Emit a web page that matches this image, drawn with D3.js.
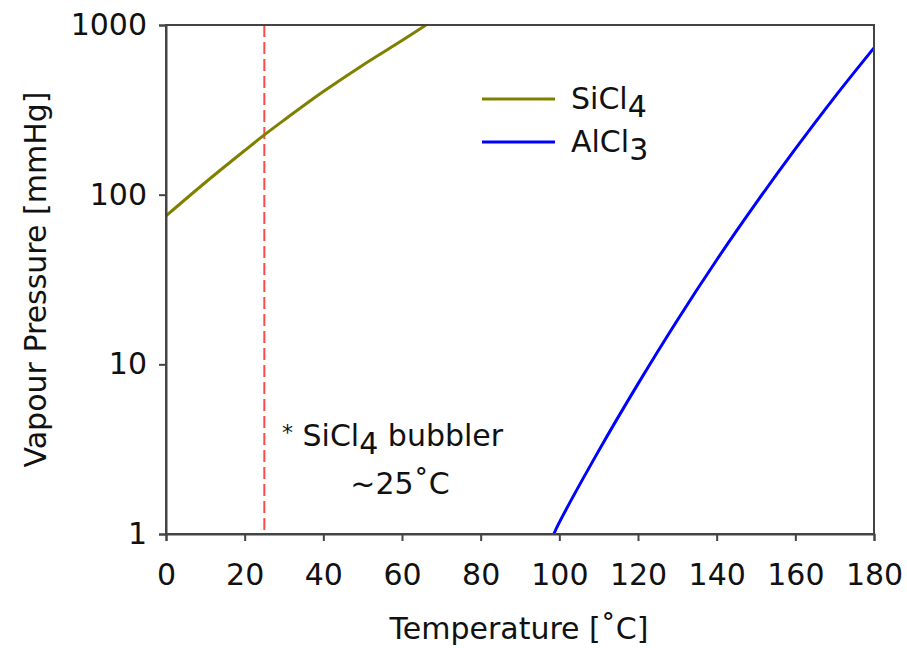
<!DOCTYPE html>
<html>
<head>
<meta charset="utf-8">
<script src="https://cdn.jsdelivr.net/npm/d3@7"></script>
<style>
  body { margin: 0; background: #fff; }
  text { font-family: "DejaVu Sans", Verdana, sans-serif; fill: #111; }
</style>
</head>
<body>
<div id="chart"></div>
<script>
// vapour pressure data (temperature in C, pressure in mmHg)
var sicl4Temp = [0, 10, 20, 25, 30, 40, 50, 60, 66.1];
var sicl4Pres = [75, 118, 182, 225, 275, 405, 580, 810, 1000];

var alcl3Temp = [98.6, 100, 110, 120, 130, 140, 150, 160, 170, 180];
var alcl3Pres = [1, 1.17, 3.09, 7.67, 18.2, 41.2, 89.1, 186, 376, 733];

var xTicks = [0, 20, 40, 60, 80, 100, 120, 140, 160, 180];
var yTicks = [1, 10, 100, 1000];
var bubblerTemp = 25;

var width = 907, height = 648;
var margin = {left: 166, right: 33, top: 25, bottom: 114};
var fontSize = "30px";

var svg = d3.select("#chart").append("svg")
    .attr("width", width)
    .attr("height", height);

var x = d3.scaleLinear().domain([0, 180]).range([margin.left, width - margin.right]);
var y = d3.scaleLog().domain([1, 1000]).range([height - margin.bottom, margin.top]);

// dashed bubbler line
svg.append("line")
    .attr("x1", x(bubblerTemp)).attr("x2", x(bubblerTemp))
    .attr("y1", y(1000)).attr("y2", y(1))
    .attr("stroke", "#ff4a4a")
    .attr("stroke-width", 2)
    .attr("stroke-dasharray", "12,5");

var line = d3.line()
    .x(function(d) { return x(d[0]); })
    .y(function(d) { return y(d[1]); })
    .curve(d3.curveCatmullRom);

svg.append("path")
    .datum(d3.zip(sicl4Temp, sicl4Pres))
    .attr("d", line)
    .attr("fill", "none")
    .attr("stroke", "#808000")
    .attr("stroke-width", 3);

svg.append("path")
    .datum(d3.zip(alcl3Temp, alcl3Pres))
    .attr("d", line)
    .attr("fill", "none")
    .attr("stroke", "#0000ff")
    .attr("stroke-width", 3);

// frame
svg.append("rect")
    .attr("x", x(0)).attr("y", y(1000))
    .attr("width", x(180) - x(0))
    .attr("height", y(1) - y(1000))
    .attr("fill", "none")
    .attr("stroke", "#444")
    .attr("stroke-width", 2);

var xAxis = svg.append("g")
    .attr("transform", "translate(0," + y(1) + ")")
    .call(d3.axisBottom(x).tickValues(xTicks).tickSize(7).tickPadding(23).tickFormat(d3.format("d")));

var yAxis = svg.append("g")
    .attr("transform", "translate(" + x(0) + ",0)")
    .call(d3.axisLeft(y).tickValues(yTicks).tickSize(7).tickPadding(12).tickFormat(d3.format("d")));

[xAxis, yAxis].forEach(function(a) {
  a.select(".domain").attr("stroke", "#444").attr("stroke-width", 2);
  a.selectAll(".tick line").attr("stroke", "#444").attr("stroke-width", 2);
  a.selectAll(".tick text").style("font-size", fontSize).attr("fill", "#111");
});

// axis titles
svg.append("text")
    .attr("x", 519)
    .attr("y", 639)
    .attr("text-anchor", "middle")
    .style("font-size", fontSize)
    .text("Temperature [\u02daC]");

svg.append("text")
    .attr("transform", "translate(46," + ((y(1) + y(1000)) / 2) + ") rotate(-90)")
    .attr("text-anchor", "middle")
    .style("font-size", fontSize)
    .text("Vapour Pressure [mmHg]");

// legend
var legend = [
  {name: "SiCl", sub: "4", color: "#808000", yy: 99},
  {name: "AlCl", sub: "3", color: "#0000ff", yy: 142}
];
legend.forEach(function(l) {
  svg.append("line")
      .attr("x1", 482).attr("x2", 555)
      .attr("y1", l.yy).attr("y2", l.yy)
      .attr("stroke", l.color)
      .attr("stroke-width", 3);
  var t = svg.append("text")
      .attr("x", 571).attr("y", l.yy + 10)
      .style("font-size", fontSize)
      .text(l.name);
  t.append("tspan").attr("dy", 8).text(l.sub);
});

// bubbler note
var note = svg.append("text")
    .attr("x", 282).attr("y", 446)
    .style("font-size", fontSize);
note.append("tspan").style("font-size", "22px").attr("dy", -6).text("*");
note.append("tspan").attr("dy", 6).text(" SiCl");
note.append("tspan").attr("dy", 8).text("4");
note.append("tspan").attr("dy", -8).text(" bubbler");

svg.append("text")
    .attr("x", 400).attr("y", 494)
    .attr("text-anchor", "middle")
    .style("font-size", fontSize)
    .text("~25\u02daC");
</script>
</body>
</html>
